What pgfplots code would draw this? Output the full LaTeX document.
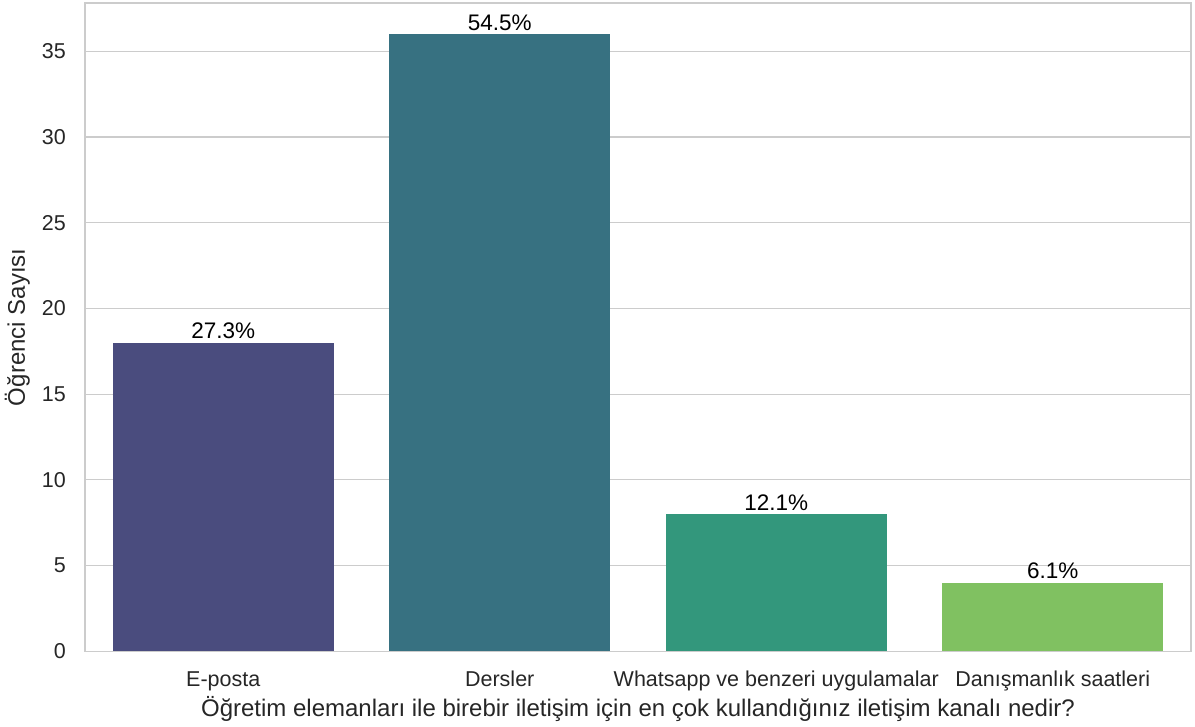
\documentclass[border=0pt]{standalone}
\usepackage{pgfplots}
\pgfplotsset{compat=1.18}
\usepackage{fontspec}
\setmainfont{Liberation Sans}
\definecolor{c0}{HTML}{4A4C7E}
\definecolor{c1}{HTML}{377181}
\definecolor{c2}{HTML}{33977C}
\definecolor{c3}{HTML}{80C161}
\definecolor{gridc}{HTML}{CCCCCC}
\definecolor{txt}{HTML}{262626}
\begin{document}
\begin{tikzpicture}
\begin{axis}[
  scale only axis,
  width=1106bp, height=648bp,
  xmin=-0.5, xmax=3.5, ymin=0, ymax=37.8,
  ybar, bar width=0.8, bar shift=0pt,
  xtick={0,1,2,3},
  xticklabels={E-posta,Dersler,Whatsapp ve benzeri uygulamalar,Danışmanlık saatleri},
  ytick={0,5,10,15,20,25,30,35},
  major tick length=0pt,
  ymajorgrids, xmajorgrids=false,
  grid style={gridc, line width=1.2bp},
  axis line style={gridc, line width=1.6bp},
  /pgf/number format/assume math mode=true,
  tick label style={font=\fontsize{21.5bp}{26bp}\selectfont, text=txt, inner sep=0pt},
  yticklabel style={anchor=east, xshift=-19bp},
  xticklabel style={anchor=base, yshift=-35bp},
  xlabel={Öğretim elemanları ile birebir iletişim için en çok kullandığınız iletişim kanalı nedir?},
  ylabel={Öğrenci Sayısı},
  label style={font=\fontsize{24bp}{28bp}\selectfont, text=txt, inner sep=0pt},
  xlabel style={at={([yshift=-65bp]axis description cs:0.5,0)}, anchor=base},
  ylabel style={at={([xshift=-60bp]axis description cs:0,0.5)}, anchor=base},
  nodes near coords,
  point meta=explicit symbolic,
  every node near coord/.append style={font=\fontsize{22.5bp}{26bp}\selectfont, text=black, anchor=base, inner sep=0pt, yshift=4bp},
]
\addplot[fill=c0, draw=none] coordinates {(0,18) [27.3\%]};
\addplot[fill=c1, draw=none] coordinates {(1,36) [54.5\%]};
\addplot[fill=c2, draw=none] coordinates {(2,8) [12.1\%]};
\addplot[fill=c3, draw=none] coordinates {(3,4) [6.1\%]};
\end{axis}
\pgfresetboundingbox
\path ([shift={(-85bp,-75.3bp)}]current axis.south west) rectangle ([shift={(4bp,3.3bp)}]current axis.north east);
\end{tikzpicture}
\end{document}
